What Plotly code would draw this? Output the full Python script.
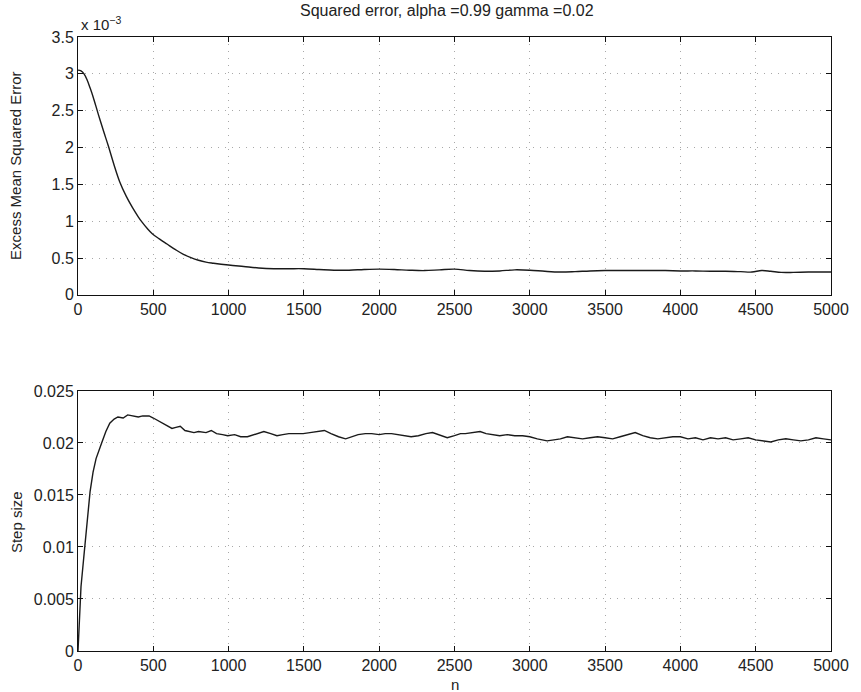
import plotly.graph_objects as go

# Top panel: excess mean squared error (units of 1e-3)
n_top = [0, 20, 40, 60, 80, 100, 135, 170, 200, 240, 276, 320, 363, 400, 428, 460, 493,
         540, 591, 650, 700, 750, 800, 850, 900, 1000, 1100, 1200, 1300, 1400, 1500, 1600,
         1700, 1800, 1900, 2000, 2100, 2200, 2300, 2400, 2500, 2600, 2700, 2800, 2900, 3000,
         3100, 3200, 3300, 3400, 3500, 3600, 3700, 3800, 3900, 4000, 4100, 4200, 4300, 4400,
         4475, 4540, 4600, 4670, 4750, 4850, 5000]
emse_e3 = [3.05, 3.04, 3.00, 2.92, 2.81, 2.69, 2.45, 2.22, 2.03, 1.76, 1.54, 1.34, 1.18, 1.06,
           0.98, 0.90, 0.83, 0.76, 0.69, 0.61, 0.55, 0.505, 0.47, 0.445, 0.43, 0.405, 0.385,
           0.365, 0.355, 0.355, 0.355, 0.345, 0.335, 0.335, 0.345, 0.35, 0.345, 0.335, 0.33,
           0.34, 0.35, 0.33, 0.32, 0.325, 0.34, 0.335, 0.32, 0.31, 0.315, 0.325, 0.33, 0.33,
           0.33, 0.33, 0.33, 0.325, 0.325, 0.32, 0.32, 0.315, 0.31, 0.33, 0.32, 0.305, 0.305,
           0.31, 0.31]

# Bottom panel: step size
n_bot = [0, 10, 20, 37, 50, 65, 80, 100, 120, 157, 185, 211, 240, 265, 300, 330, 360, 400, 430,
         472, 500, 537, 580, 624, 650, 679, 710, 733, 770, 800, 850, 885, 920, 960, 994, 1040,
         1080, 1125, 1170, 1200, 1234, 1280, 1321, 1360, 1400, 1451, 1495, 1540, 1590, 1636,
         1680, 1730, 1777, 1820, 1860, 1908, 1950, 2000, 2040, 2082, 2130, 2170, 2212, 2260,
         2310, 2354, 2400, 2452, 2500, 2540, 2572, 2620, 2670, 2710, 2750, 2800, 2850, 2900,
         2952, 3000, 3050, 3115, 3160, 3203, 3250, 3300, 3350, 3400, 3450, 3500, 3550, 3600,
         3650, 3700, 3750, 3800, 3850, 3900, 3950, 4000, 4050, 4100, 4150, 4200, 4250, 4300,
         4350, 4400, 4450, 4500, 4550, 4600, 4650, 4700, 4750, 4800, 4850, 4900, 4950, 5000]
step = [0.0, 0.0035, 0.0062, 0.0088, 0.0108, 0.0132, 0.0153, 0.0172, 0.0185, 0.0200, 0.0211,
        0.0219, 0.0223, 0.0225, 0.0224, 0.0227, 0.0226, 0.0225, 0.0226, 0.0226, 0.0224, 0.0221,
        0.0217, 0.0214, 0.0215, 0.0216, 0.0212, 0.0211, 0.0210, 0.0211, 0.0210, 0.0212, 0.0209,
        0.0208, 0.0207, 0.0208, 0.0206, 0.0206, 0.0208, 0.0210, 0.0211, 0.0209, 0.0207, 0.0208,
        0.0209, 0.0209, 0.0209, 0.0210, 0.0211, 0.0212, 0.0209, 0.0206, 0.0204, 0.0206, 0.0208,
        0.0209, 0.0209, 0.0208, 0.0209, 0.0209, 0.0208, 0.0207, 0.0206, 0.0207, 0.0209, 0.0210,
        0.0208, 0.0205, 0.0207, 0.0209, 0.0209, 0.0210, 0.0211, 0.0209, 0.0208, 0.0207, 0.0208,
        0.0207, 0.0207, 0.0206, 0.0204, 0.0202, 0.0203, 0.0204, 0.0206, 0.0205, 0.0204, 0.0205,
        0.0206, 0.0205, 0.0204, 0.0206, 0.0208, 0.0210, 0.0207, 0.0205, 0.0204, 0.0205, 0.0206,
        0.0206, 0.0204, 0.0205, 0.0203, 0.0205, 0.0204, 0.0205, 0.0203, 0.0204, 0.0205, 0.0203,
        0.0202, 0.0201, 0.0203, 0.0204, 0.0203, 0.0202, 0.0203, 0.0205, 0.0204, 0.0203]

x_ticks = [0, 500, 1000, 1500, 2000, 2500, 3000, 3500, 4000, 4500, 5000]
top_ticks = [0, 0.5, 1, 1.5, 2, 2.5, 3, 3.5]
top_ticktext = ["0", "0.5", "1", "1.5", "2", "2.5", "3", "3.5"]
bot_ticks = [0, 0.005, 0.01, 0.015, 0.02, 0.025]
bot_ticktext = ["0", "0.005", "0.01", "0.015", "0.02", "0.025"]

title_text = "Squared error, alpha =0.99 gamma =0.02"
FONT = "Liberation Sans, Arial, sans-serif"
TXT = "#222222"
line_style = dict(color="#1a1a1a", width=1.4)

fig = go.Figure()
fig.add_trace(go.Scatter(x=n_top, y=emse_e3, mode="lines", line=line_style,
                         line_shape="spline", xaxis="x", yaxis="y", showlegend=False))
fig.add_trace(go.Scatter(x=n_bot, y=step, mode="lines", line=line_style,
                         xaxis="x2", yaxis="y2", showlegend=False))

axis_common = dict(showline=True, linecolor="#111111", linewidth=1, mirror="allticks",
                   ticks="inside", ticklen=5, tickcolor="#111111", tickwidth=1,
                   showgrid=True, gridcolor="#a8a8a8", griddash="1px,6px", gridwidth=1,
                   zeroline=False, tickfont=dict(family=FONT, size=16, color=TXT))

fig.update_layout(
    width=861, height=692,
    margin=dict(l=78, r=22, t=37, b=41),
    paper_bgcolor="white", plot_bgcolor="white",
    font=dict(family=FONT, color=TXT),
    xaxis=dict(domain=[0, 1], range=[0, 5000], tickvals=x_ticks, anchor="y", **axis_common),
    yaxis=dict(domain=[0.58, 1.0], range=[0, 3.5], tickvals=top_ticks, ticktext=top_ticktext,
               anchor="x", **axis_common),
    xaxis2=dict(domain=[0, 1], range=[0, 5000], tickvals=x_ticks, anchor="y2", **axis_common),
    yaxis2=dict(domain=[0, 0.4235], range=[0, 0.025], tickvals=bot_ticks, ticktext=bot_ticktext,
                anchor="x2", **axis_common),
    annotations=[
        dict(text=title_text, xref="paper", yref="paper", x=0.5, xshift=-8, y=1.0, yshift=16,
             xanchor="center", yanchor="bottom", showarrow=False,
             font=dict(family=FONT, size=16, color=TXT)),
        dict(text="x 10<sup>−3</sup>", xref="paper", yref="paper", x=0.0, y=1.0, xshift=1,
             yshift=2, xanchor="left", yanchor="bottom", showarrow=False,
             font=dict(family=FONT, size=15, color=TXT)),
        dict(text="Excess Mean Squared Error", xref="paper", yref="paper", x=0.0, xshift=-62,
             y=0.79, xanchor="center", yanchor="middle", textangle=-90, showarrow=False,
             font=dict(family=FONT, size=15, color=TXT)),
        dict(text="Step size", xref="paper", yref="paper", x=0.0, xshift=-62,
             y=0.21, xanchor="center", yanchor="middle", textangle=-90, showarrow=False,
             font=dict(family=FONT, size=15, color=TXT)),
        dict(text="n", xref="paper", yref="paper", x=0.5, y=0.0, yshift=-33,
             xanchor="center", yanchor="middle", showarrow=False,
             font=dict(family=FONT, size=15, color=TXT)),
    ],
)

fig.write_html("out.html")
